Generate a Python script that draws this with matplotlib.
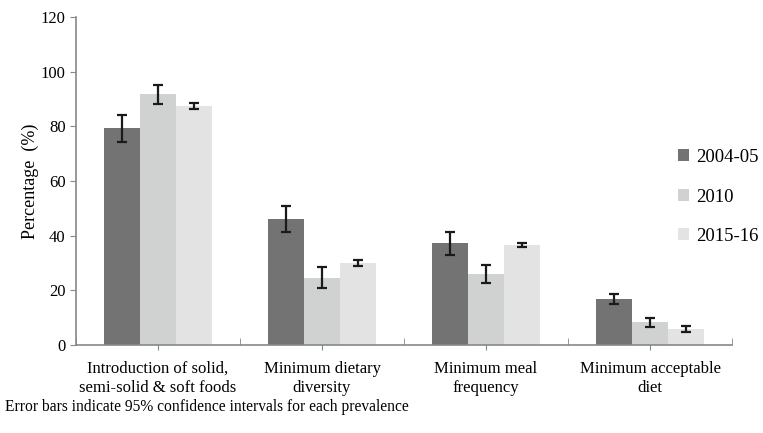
import matplotlib
matplotlib.use("Agg")
import matplotlib.pyplot as plt
import numpy as np

plt.rcParams["font.family"] = ["Liberation Serif", "DejaVu Serif"]

categories = ["Introduction of solid,\nsemi-solid & soft foods",
              "Minimum dietary\ndiversity",
              "Minimum meal\nfrequency",
              "Minimum acceptable\ndiet"]
series = ["2004-05", "2010", "2015-16"]
values = {
    "2004-05": [79.3, 46.0, 37.2, 16.9],
    "2010": [91.8, 24.7, 26.0, 8.3],
    "2015-16": [87.5, 30.0, 36.6, 5.9],
}
errors = {
    "2004-05": [4.9, 4.7, 4.1, 1.9],
    "2010": [3.5, 4.0, 3.4, 1.7],
    "2015-16": [1.1, 1.0, 0.9, 1.0],
}
colors = {"2004-05": "#737373", "2010": "#d0d2d2", "2015-16": "#e3e3e3"}

fig = plt.figure(figsize=(7.63, 4.33), dpi=100)
ax = fig.add_axes([0.0996, 0.2032, 0.8598, 0.7575])

x = np.arange(len(categories))
width = 0.22
for i, s in enumerate(series):
    pos = x + (i - 1) * width
    ax.bar(pos, values[s], width, color=colors[s], label=s, zorder=2)
    ax.errorbar(pos, values[s], yerr=errors[s], fmt="none", ecolor="#1a1a1a",
                elinewidth=1.6, capsize=3.5, capthick=1.6, zorder=3)

ax.set_xlim(-0.5, len(categories) - 0.5)
ax.set_ylim(0, 120)
ax.set_yticks(range(0, 121, 20))
ax.set_xticks(x)
ax.set_xticklabels(categories, fontsize=12, linespacing=1.25)
ax.set_xticks(np.arange(-0.5, len(categories)), minor=True)
ax.tick_params(axis="x", which="major", direction="inout", length=7, color="#888888", pad=8)
ax.tick_params(axis="x", which="minor", direction="in", length=5, color="#888888")
ax.tick_params(axis="y", direction="out", length=4, color="#888888", labelsize=12)
for side in ["top", "right"]:
    ax.spines[side].set_visible(False)
for side in ["left", "bottom"]:
    ax.spines[side].set_color("#888888")
    ax.spines[side].set_linewidth(1.2)

ax.set_ylabel("Percentage  (%)", fontsize=13, labelpad=1)

fig.legend(loc="center left", bbox_to_anchor=(0.884, 0.545), frameon=False,
           fontsize=13.5, handlelength=0.6, handleheight=0.6, handletextpad=0.35,
           labelspacing=1.2, borderaxespad=0, borderpad=0.2)

fig.text(0.006, 0.06, "Error bars indicate 95% confidence intervals for each prevalence",
         fontsize=11.2, ha="left", va="center")

fig.savefig("out.png", dpi=100)
